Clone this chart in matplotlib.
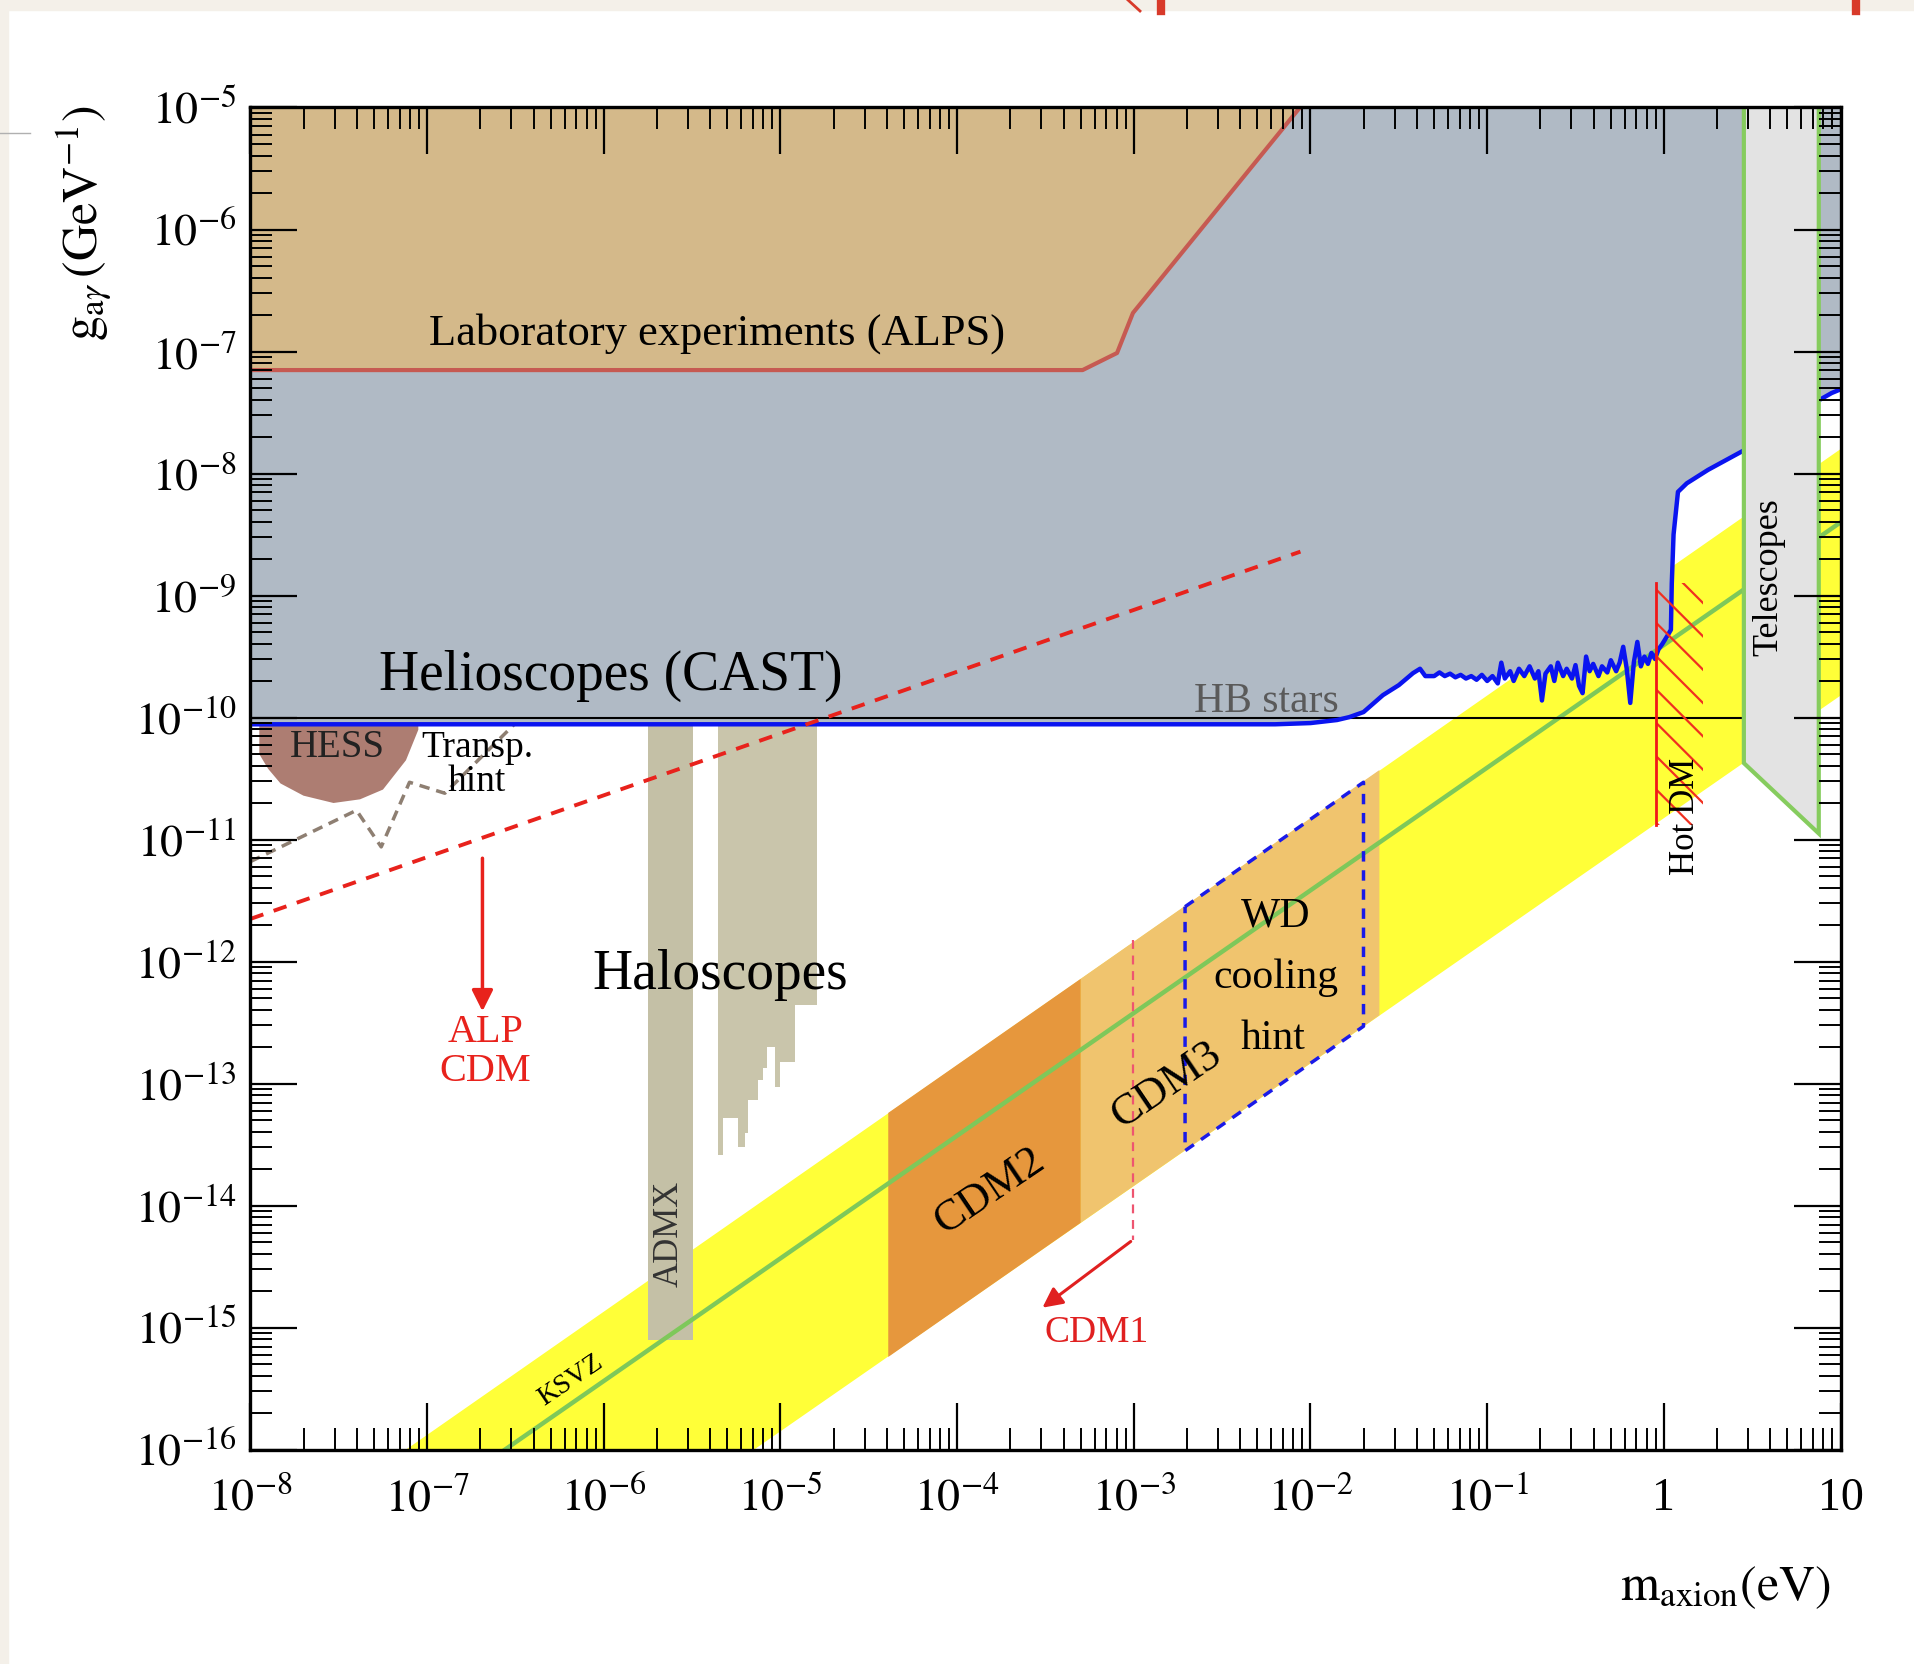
import numpy as np
import matplotlib
matplotlib.use("Agg")
import matplotlib.pyplot as plt
from matplotlib.patches import Polygon, Rectangle
from matplotlib.lines import Line2D
from matplotlib.ticker import FixedLocator, LogLocator, NullFormatter

plt.rcParams['font.family'] = ['Liberation Serif', 'DejaVu Serif']
plt.rcParams['mathtext.fontset'] = 'stix'
plt.rcParams['hatch.linewidth'] = 1.6

# every value below is log10(m_axion / eV) or log10(g / GeV^-1)

# Laboratory experiments (ALPS), lower edge
alps_logm = [-8.0, -3.29, -3.095, -3.005, -2.06]
alps_logg = [-7.152, -7.152, -7.012, -6.684, -5.0]

# Helioscopes (CAST), blue limit line
cast_logm = [-8.0, -2.2, -2.0, -1.85, -1.78, -1.70, -1.59, -1.50, -1.42, -1.38,
             -1.35, -1.30, -1.27, -1.24, -1.21, -1.18, -1.15, -1.12, -1.09, -1.06,
             -1.03, -1.00, -0.97, -0.94, -0.92, -0.90, -0.87, -0.85, -0.82, -0.79,
             -0.76, -0.73, -0.71, -0.69, -0.67, -0.64, -0.62, -0.60, -0.57, -0.55,
             -0.52, -0.50, -0.48, -0.46, -0.44, -0.42, -0.40, -0.37, -0.35, -0.32,
             -0.30, -0.27, -0.25, -0.23, -0.21, -0.19, -0.17, -0.15, -0.13, -0.11,
             -0.09, -0.07, -0.05, -0.03, -0.01, 0.02, 0.04, 0.045, 0.055, 0.08,
             0.13, 0.25, 0.453, 0.877, 0.95, 1.0]
cast_logg = [-10.055, -10.055, -10.045, -10.02, -9.996, -9.955, -9.816, -9.734, -9.636, -9.60,
             -9.66, -9.66, -9.63, -9.66, -9.64, -9.67, -9.65, -9.68, -9.66, -9.69,
             -9.65, -9.70, -9.66, -9.72, -9.55, -9.68, -9.62, -9.70, -9.60, -9.66,
             -9.58, -9.68, -9.62, -9.86, -9.64, -9.58, -9.70, -9.55, -9.66, -9.60,
             -9.68, -9.57, -9.74, -9.80, -9.50, -9.62, -9.56, -9.66, -9.58, -9.63,
             -9.53, -9.62, -9.55, -9.42, -9.60, -9.88, -9.55, -9.38, -9.58, -9.50,
             -9.56, -9.47, -9.52, -9.44, -9.40, -9.33, -9.28, -8.90, -8.50, -8.15,
             -8.08, -7.97, -7.81, -7.40, -7.34, -7.31]

# HB stars
hb_logm = [-8.0, 0.453]
hb_logg = [-10.0, -10.0]

# QCD axion band (yellow)
band_logm = [-7.12, 1.0, 1.0, -5.15]
band_logg = [-16.0, -7.80, -9.82, -16.0]

# KSVZ line
ksvz_logm = [-6.56, 1.0]
ksvz_logg = [-16.0, -8.40]

# CDM regions on the band
cdm2_logm = [-4.39, -3.30, -3.30, -4.39]
cdm2_logg = [-13.24, -12.14, -14.14, -15.24]
cdm3_logm = [-3.30, -1.61, -1.61, -3.30]
cdm3_logg = [-12.14, -10.43, -12.44, -14.14]
wd_logm = [-2.71, -1.70, -1.70, -2.71, -2.71]
wd_logg = [-11.55, -10.53, -12.53, -13.55, -11.55]

# Haloscopes
admx_logm = [-5.75, -5.495]
admx_logg = [-15.10, -10.055]
halo_edges_logm = [-5.352, -5.324, -5.239, -5.201, -5.182, -5.126, -5.097,
                   -5.078, -5.031, -5.003, -4.918, -4.795]
halo_bottom_logg = [-13.586, -13.283, -13.520, -13.406, -13.135, -12.971,
                    -12.873, -12.701, -13.029, -12.824, -12.357]
halo_top_logg = -10.055

# HESS
hess_logm = [-7.95, -7.95, -7.90, -7.83, -7.70, -7.53, -7.38, -7.25, -7.12, -7.05, -7.05]
hess_logg = [-10.06, -10.30, -10.42, -10.54, -10.64, -10.70, -10.67, -10.59, -10.35, -10.10, -10.06]

# transparency hint
transp_logm = [-8.0, -7.40, -7.26, -7.10, -6.90, -6.51]
transp_logg = [-11.18, -10.76, -11.06, -10.53, -10.62, -10.06]

# ALP cold dark matter line
alpcdm_logm = [-8.0, -2.057]
alpcdm_logg = [-11.65, -8.64]

# Hot DM
hotdm_logm = [-0.046, 0.224]
hotdm_logg = [-10.88, -8.90]

# Telescopes
tel_logm = [0.453, 0.453, 0.877, 0.877]
tel_logg = [-5.0, -10.373, -10.95, -5.0]

xticks_log = list(range(-8, 2))
xtick_labels = [r'$10^{-8}$', r'$10^{-7}$', r'$10^{-6}$', r'$10^{-5}$', r'$10^{-4}$',
                r'$10^{-3}$', r'$10^{-2}$', r'$10^{-1}$', '1', '10']
yticks_log = list(range(-16, -4))
ytick_labels = [r'$10^{%d}$' % k for k in yticks_log]


def p(a):
    return 10.0 ** np.asarray(a, dtype=float)


fig = plt.figure(figsize=(19.15, 16.64), dpi=100)
ax = fig.add_axes([0.1308, 0.1288, 0.8303, 0.8066])
ax.set_xscale('log')
ax.set_yscale('log')
ax.set_xlim(1e-8, 10)
ax.set_ylim(1e-16, 1e-5)

yellow = '#ffff38'
gray = '#b0bac5'
tan = '#d4b98a'

# band and regions on it
ax.fill(p(band_logm), p(band_logg), color=yellow, lw=0, zorder=1)
ax.fill(p(cdm2_logm), p(cdm2_logg), color='#e6973d', lw=0, zorder=1.1)
ax.fill(p(cdm3_logm), p(cdm3_logg), color='#f0c46e', lw=0, zorder=1.1)

# haloscopes
ax.fill_between(p(admx_logm), p([admx_logg[0]] * 2), p([admx_logg[1]] * 2),
                color='#c4c0a6', lw=0, zorder=1.2)
halo_bot = halo_bottom_logg + [halo_bottom_logg[-1]]
ax.fill_between(p(halo_edges_logm), p(halo_bot), 10 ** halo_top_logg, step='post',
                color='#c9c5ab', lw=0, zorder=1.2)

# CAST region and ALPS region
ax.fill_between(p(cast_logm), p(cast_logg), 1e-5, color=gray, lw=0, zorder=1.3)
ax.fill_between(p(alps_logm), p(alps_logg), 1e-5, color=tan, lw=0, zorder=1.4)
ax.plot(p(alps_logm), p(alps_logg), color='#c65a52', lw=3, zorder=1.5)

# KSVZ
ax.plot(p(ksvz_logm), p(ksvz_logg), color='#7ec85a', lw=3.2, zorder=1.6)

# HB and CAST lines
ax.plot(p(hb_logm), p(hb_logg), color='black', lw=1.5, zorder=1.7)
ax.plot(p(cast_logm), p(cast_logg), color='#0a14f0', lw=3.2, zorder=1.8)

# HESS and transparency hint
ax.fill(p(hess_logm), p(hess_logg), color='#ad7d72', lw=0, zorder=1.5)
ax.plot(p(transp_logm), p(transp_logg), color='#8e7f72', lw=2.5, ls=(0, (3, 2)), zorder=1.6)

# ALP CDM
ax.plot(p(alpcdm_logm), p(alpcdm_logg), color='#e8221c', lw=2.8, ls=(0, (3.5, 2.8)), zorder=1.9)
ax.annotate('', xy=(10 ** -6.687, 10 ** -12.43), xytext=(10 ** -6.687, 10 ** -11.13),
            arrowprops=dict(arrowstyle='-|>', color='#e8221c', lw=2.5, mutation_scale=32),
            zorder=2)

# WD cooling hint box
ax.plot(p(wd_logm), p(wd_logg), color='#1a1ae8', lw=2.5, ls=(0, (3, 2.5)), zorder=1.9)

# CDM1
ax.plot([10 ** -3.005] * 2, [10 ** -11.82, 10 ** -14.28], color='#ee5570', lw=1.6,
        ls=(0, (4, 3)), zorder=1.9)
ax.annotate('', xy=(10 ** -3.53, 10 ** -14.85), xytext=(10 ** -3.005, 10 ** -14.28),
            arrowprops=dict(arrowstyle='-|>', color='#e02020', lw=2.2, mutation_scale=30),
            zorder=2)

# Hot DM
ax.add_patch(Rectangle((10 ** hotdm_logm[0], 10 ** hotdm_logg[0]),
                       10 ** hotdm_logm[1] - 10 ** hotdm_logm[0],
                       10 ** hotdm_logg[1] - 10 ** hotdm_logg[0],
                       fill=False, hatch='\\', edgecolor='#f03020', lw=0, zorder=2.1))
ax.plot([10 ** hotdm_logm[0]] * 2, p(hotdm_logg), color='#f01818', lw=2, zorder=2.2)

# Telescopes
ax.add_patch(Polygon(np.column_stack([p(tel_logm), p(tel_logg)]), closed=False,
                     facecolor='#e3e3e3', edgecolor='#86cc5e', lw=3, zorder=2.3))

# labels
tk = dict(ha='center', va='center', zorder=30)
ax.text(10 ** -5.36, 10 ** -6.85, 'Laboratory experiments (ALPS)', fontsize=32, **tk)
ax.text(10 ** -5.96, 10 ** -9.655, 'Helioscopes (CAST)', fontsize=40, **tk)
ax.text(10 ** -2.25, 10 ** -9.87, 'HB stars', fontsize=30, color='#5a5a5a', **tk)
ax.text(10 ** -7.51, 10 ** -10.245, 'HESS', fontsize=28, color='#222222', **tk)
ax.text(10 ** -6.715, 10 ** -10.245, 'Transp.', fontsize=27, **tk)
ax.text(10 ** -6.72, 10 ** -10.525, 'hint', fontsize=27, **tk)
ax.text(10 ** -5.34, 10 ** -12.11, 'Haloscopes', fontsize=40, **tk)
ax.text(10 ** -6.67, 10 ** -12.58, 'ALP', fontsize=29, color='#e8221c', **tk)
ax.text(10 ** -6.67, 10 ** -12.90, 'CDM', fontsize=29, color='#e8221c', **tk)
ax.text(10 ** -5.63, 10 ** -14.23, 'ADMX', fontsize=25, rotation=90, color='#333333', **tk)
ax.text(10 ** -6.19, 10 ** -15.43, 'KSVZ', fontsize=20, rotation=34, **tk)
ax.text(10 ** -3.82, 10 ** -13.88, 'CDM2', fontsize=32, rotation=34, **tk)
ax.text(10 ** -2.817, 10 ** -13.01, 'CDM3', fontsize=32, rotation=34, **tk)
ax.text(10 ** -2.195, 10 ** -11.63, 'WD', fontsize=30, **tk)
ax.text(10 ** -2.195, 10 ** -12.13, 'cooling', fontsize=30, **tk)
ax.text(10 ** -2.21, 10 ** -12.63, 'hint', fontsize=30, **tk)
ax.text(10 ** -3.21, 10 ** -15.04, 'CDM1', fontsize=27, color='#e02020', **tk)
ax.text(10 ** 0.12, 10 ** -10.81, 'Hot DM', fontsize=25, rotation=90, **tk)
ax.text(10 ** 0.597, 10 ** -8.85, 'Telescopes', fontsize=26, rotation=90, **tk)

# axes and ticks
ax.xaxis.set_major_locator(FixedLocator(p(xticks_log)))
ax.set_xticklabels(xtick_labels)
ax.yaxis.set_major_locator(FixedLocator(p(yticks_log)))
ax.set_yticklabels(ytick_labels)
ax.xaxis.set_minor_locator(LogLocator(base=10, subs=np.arange(2, 10), numticks=100))
ax.yaxis.set_minor_locator(LogLocator(base=10, subs=np.arange(2, 10), numticks=100))
ax.xaxis.set_minor_formatter(NullFormatter())
ax.yaxis.set_minor_formatter(NullFormatter())
ax.tick_params(which='both', direction='in', top=True, right=True, colors='black')
ax.tick_params(which='major', length=34, width=1.6)
ax.tick_params(which='minor', length=16, width=1.4)
ax.tick_params(axis='x', which='major', labelsize=33, pad=20)
ax.tick_params(axis='y', which='major', labelsize=33, pad=10)
for s in ax.spines.values():
    s.set_linewidth(2.4)
    s.set_zorder(40)
ax.xaxis.set_zorder(35)
ax.yaxis.set_zorder(35)

fig.text(0.0434, 0.866, r'$\mathrm{g}_{\mathrm{a}\gamma}\,(\mathrm{GeV}^{-1})$',
         rotation=90, fontsize=36, ha='center', va='center')
fig.text(0.901, 0.0457, r'$\mathrm{m}_{\mathrm{axion}}(\mathrm{eV})$',
         fontsize=36, ha='center', va='center')

# page edges of the screenshot
page = '#f4f0e9'
fig.patches.append(Rectangle((0, 1 - 10 / 1664), 1, 10 / 1664, transform=fig.transFigure,
                             color=page, zorder=0))
fig.patches.append(Rectangle((0, 0), 8 / 1915, 1, transform=fig.transFigure,
                             color=page, zorder=0))
fig.add_artist(Line2D([0, 30 / 1915], [1 - 133 / 1664] * 2, color='#b0b0b0', lw=1))
fig.add_artist(Line2D([1128 / 1915, 1140 / 1915], [1, 1 - 11 / 1664], color='#d83a2a', lw=2))
fig.add_artist(Line2D([1161 / 1915] * 2, [1, 1 - 11 / 1664], color='#d83a2a', lw=6))
fig.add_artist(Line2D([1856 / 1915] * 2, [1, 1 - 11 / 1664], color='#d83a2a', lw=6))

fig.savefig('out.png', dpi=100)
